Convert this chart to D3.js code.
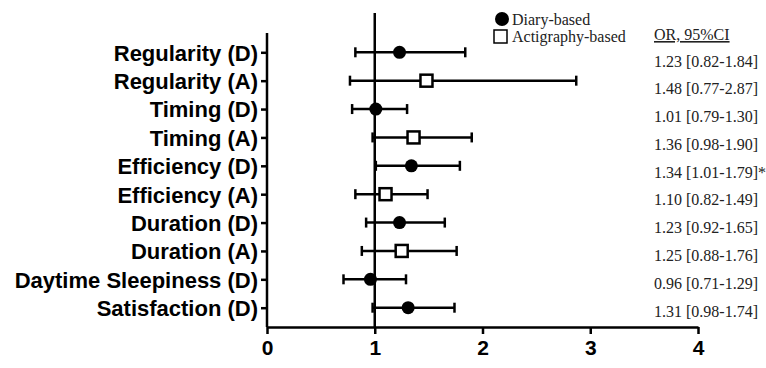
<!DOCTYPE html>
<html>
<head>
<meta charset="utf-8">
<script src="https://cdn.jsdelivr.net/npm/d3@7"></script>
<style>
  body { margin: 0; background: #fff; }
  svg { display: block; }
</style>
</head>
<body>
<div id="forest"></div>
<script>
var width = 766,
    height = 368;

var labels = ["Regularity (D)", "Regularity (A)", "Timing (D)", "Timing (A)",
    "Efficiency (D)", "Efficiency (A)", "Duration (D)", "Duration (A)",
    "Daytime Sleepiness (D)", "Satisfaction (D)"];
var kind = ["D", "A", "D", "A", "D", "A", "D", "A", "D", "D"];
var oddsRatio = [1.23, 1.48, 1.01, 1.36, 1.34, 1.10, 1.23, 1.25, 0.96, 1.31];
var ciLow = [0.82, 0.77, 0.79, 0.98, 1.01, 0.82, 0.92, 0.88, 0.71, 0.98];
var ciHigh = [1.84, 2.87, 1.30, 1.90, 1.79, 1.49, 1.65, 1.76, 1.29, 1.74];
var signif = [false, false, false, false, true, false, false, false, false, false];
var xTicks = [0, 1, 2, 3, 4];

var rows = labels.map(function (l, i) {
    return {label: l, kind: kind[i], or: oddsRatio[i], lo: ciLow[i], hi: ciHigh[i], star: signif[i]};
});

var svg = d3.select("#forest").append("svg")
    .attr("width", width)
    .attr("height", height);

var x = d3.scaleLinear().domain([0, 4]).range([267, 698]);
var y = d3.scalePoint().domain(labels).range([33, 327]).padding(0.68);
// the OR column in the original sits on a slightly different grid
var yText = d3.scalePoint().domain(labels).range([66.5, 316.5]);

var fmt = d3.format(".2f");

// y axis
var yAxis = svg.append("g")
    .attr("transform", "translate(" + x(0) + ",0)")
    .call(d3.axisLeft(y).tickSize(6).tickPadding(3));
yAxis.select(".domain").attr("d", "M0,33V327").attr("stroke-width", 2.5);
yAxis.selectAll(".tick line").attr("stroke-width", 2.5);
yAxis.selectAll(".tick text")
    .attr("font-family", "'Liberation Sans', Arial, sans-serif")
    .attr("font-weight", "bold")
    .attr("font-size", 22)
    .attr("fill", "#000")
    .attr("dy", "0.36em");

// x axis
var xAxis = svg.append("g")
    .attr("transform", "translate(0,327)")
    .call(d3.axisBottom(x).tickValues(xTicks).tickFormat(d3.format("d")).tickSize(7).tickSizeOuter(0).tickPadding(6));
xAxis.select(".domain").attr("stroke-width", 2.5);
xAxis.selectAll(".tick line").attr("stroke-width", 2.5);
xAxis.selectAll(".tick text")
    .attr("font-family", "'Liberation Sans', Arial, sans-serif")
    .attr("font-weight", "bold")
    .attr("font-size", 21)
    .attr("fill", "#000");

// reference line at OR = 1
svg.append("line")
    .attr("x1", x(1)).attr("x2", x(1))
    .attr("y1", 13).attr("y2", 327)
    .attr("stroke", "#000")
    .attr("stroke-width", 2.5);

var g = svg.selectAll(".row")
    .data(rows)
    .enter()
    .append("g")
    .attr("class", "row");

g.append("line")
    .attr("x1", function (d) { return x(d.lo); })
    .attr("x2", function (d) { return x(d.hi); })
    .attr("y1", function (d) { return y(d.label); })
    .attr("y2", function (d) { return y(d.label); })
    .attr("stroke", "#000")
    .attr("stroke-width", 2.5);

g.selectAll(".cap")
    .data(function (d) { return [{v: d.lo, label: d.label}, {v: d.hi, label: d.label}]; })
    .enter()
    .append("line")
    .attr("class", "cap")
    .attr("x1", function (c) { return x(c.v); })
    .attr("x2", function (c) { return x(c.v); })
    .attr("y1", function (c) { return y(c.label) - 5; })
    .attr("y2", function (c) { return y(c.label) + 5; })
    .attr("stroke", "#000")
    .attr("stroke-width", 2.5);

g.filter(function (d) { return d.kind === "D"; })
    .append("circle")
    .attr("cx", function (d) { return x(d.or); })
    .attr("cy", function (d) { return y(d.label); })
    .attr("r", 6.5)
    .attr("fill", "#000");

g.filter(function (d) { return d.kind === "A"; })
    .append("rect")
    .attr("x", function (d) { return x(d.or) - 6; })
    .attr("y", function (d) { return y(d.label) - 6; })
    .attr("width", 12)
    .attr("height", 12)
    .attr("fill", "#fff")
    .attr("stroke", "#000")
    .attr("stroke-width", 2.5);

// OR text column
g.append("text")
    .attr("x", 654)
    .attr("y", function (d) { return yText(d.label); })
    .attr("font-family", "'Liberation Serif', 'Times New Roman', serif")
    .attr("font-size", 16)
    .attr("fill", "#222")
    .text(function (d) {
        return fmt(d.or) + " [" + fmt(d.lo) + "-" + fmt(d.hi) + "]" + (d.star ? "*" : "");
    });

svg.append("text")
    .attr("x", 654)
    .attr("y", 40)
    .attr("font-family", "'Liberation Serif', 'Times New Roman', serif")
    .attr("font-size", 16)
    .attr("fill", "#222")
    .attr("text-decoration", "underline")
    .text("OR, 95%CI");

// legend
svg.append("circle")
    .attr("cx", 502).attr("cy", 19).attr("r", 7)
    .attr("fill", "#000");
svg.append("text")
    .attr("x", 512).attr("y", 25)
    .attr("font-family", "'Liberation Serif', 'Times New Roman', serif")
    .attr("font-size", 16)
    .attr("fill", "#222")
    .text("Diary-based");
svg.append("rect")
    .attr("x", 494).attr("y", 30).attr("width", 13).attr("height", 13)
    .attr("fill", "#fff").attr("stroke", "#000").attr("stroke-width", 1.5);
svg.append("text")
    .attr("x", 512).attr("y", 42)
    .attr("font-family", "'Liberation Serif', 'Times New Roman', serif")
    .attr("font-size", 16)
    .attr("fill", "#222")
    .text("Actigraphy-based");
</script>
</body>
</html>
